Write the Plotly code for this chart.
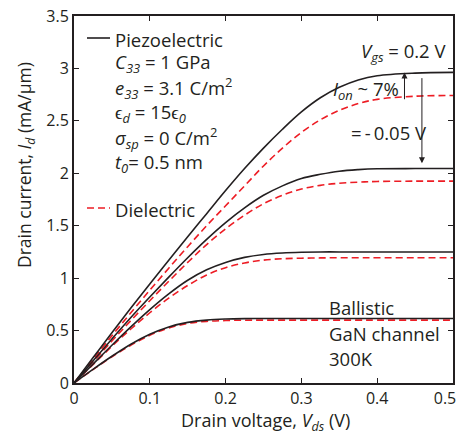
import plotly.graph_objects as go

# ---- data ----
vds = [0, 0.025, 0.05, 0.075, 0.1, 0.125, 0.15, 0.175, 0.2, 0.225, 0.25, 0.275,
       0.3, 0.325, 0.35, 0.375, 0.4, 0.45, 0.5]

piezo_vgs020 = [0, 0.24, 0.48, 0.715, 0.945, 1.17, 1.395, 1.615, 1.835, 2.045, 2.24, 2.42,
                2.585, 2.72, 2.82, 2.89, 2.93, 2.955, 2.962]
piezo_vgs015 = [0, 0.21, 0.42, 0.625, 0.82, 1.01, 1.195, 1.37, 1.53, 1.67, 1.79, 1.88,
                1.95, 1.99, 2.02, 2.035, 2.043, 2.045, 2.045]
piezo_vgs010 = [0, 0.18, 0.36, 0.535, 0.70, 0.85, 0.98, 1.08, 1.15, 1.198, 1.226, 1.24,
                1.247, 1.25, 1.25, 1.25, 1.25, 1.25, 1.25]
piezo_vgs005 = [0, 0.13, 0.255, 0.37, 0.465, 0.535, 0.578, 0.60, 0.61, 0.614, 0.615, 0.615,
                0.615, 0.615, 0.615, 0.615, 0.615, 0.615, 0.615]

diel_vgs020 = [0, 0.225, 0.45, 0.67, 0.885, 1.095, 1.30, 1.50, 1.69, 1.88, 2.07, 2.24,
               2.39, 2.51, 2.60, 2.665, 2.705, 2.735, 2.742]
diel_vgs015 = [0, 0.20, 0.40, 0.595, 0.785, 0.97, 1.15, 1.32, 1.47, 1.60, 1.71, 1.79,
               1.85, 1.885, 1.905, 1.915, 1.922, 1.925, 1.925]
diel_vgs010 = [0, 0.175, 0.35, 0.515, 0.67, 0.81, 0.93, 1.03, 1.10, 1.145, 1.172, 1.185,
               1.19, 1.193, 1.195, 1.195, 1.195, 1.195, 1.195]
diel_vgs005 = [0, 0.128, 0.25, 0.36, 0.455, 0.525, 0.568, 0.588, 0.596, 0.599, 0.60, 0.60,
               0.60, 0.60, 0.60, 0.60, 0.60, 0.60, 0.60]

x_ticks = [0, 0.1, 0.2, 0.3, 0.4, 0.5]
x_ticklabels = ["0", "0.1", "0.2", "0.3", "0.4", "0.5\u2003"]
y_ticks = [0, 0.5, 1, 1.5, 2, 2.5, 3, 3.5]
y_ticklabels = ["0", "0.5", "1", "1.5", "2", "2.5", "3", "3.5"]

# ---- styles ----
BLACK = "#231f20"
RED = "#ed1c24"
FONT = "Open Sans"

W, H = 462, 437
ML, MR, MT, MB = 74, 9, 16, 54
PW, PH = W - ML - MR, H - MT - MB


def px(x, y):
    """pixel position -> paper coordinates"""
    return (x - ML) / PW, (H - MB - y) / PH


fig = go.Figure()

for ys in [diel_vgs020, diel_vgs015, diel_vgs010, diel_vgs005]:
    fig.add_trace(go.Scatter(x=vds, y=ys, mode="lines", showlegend=False,
                             line=dict(color=RED, width=1.6, dash="7px,4px", shape="spline", smoothing=1.0)))
for ys in [piezo_vgs020, piezo_vgs015, piezo_vgs010, piezo_vgs005]:
    fig.add_trace(go.Scatter(x=vds, y=ys, mode="lines", showlegend=False,
                             line=dict(color=BLACK, width=1.6, shape="spline", smoothing=1.0)))

annotations = []
shapes = []


def text_at(x, y, txt, size=18.5, xanchor="left", **kw):
    xp, yp = px(x, y)
    annotations.append(dict(x=xp, y=yp, xref="paper", yref="paper", text=txt, showarrow=False,
                            xanchor=xanchor, yanchor="middle",
                            font=dict(family=FONT, size=size, color=BLACK), **kw))


def hline_sample(x0, x1, y, color, dash=None):
    a0, b0 = px(x0, y)
    a1, b1 = px(x1, y)
    shapes.append(dict(type="line", xref="paper", yref="paper", x0=a0, x1=a1, y0=b0, y1=b1,
                       line=dict(color=color, width=1.6, dash=dash)))


hline_sample(87, 110, 38, BLACK)
text_at(113, 39, "Piezoelectric")
text_at(113, 63, "<i>C</i><sub><i>33</i></sub> = 1 GPa")
text_at(113, 88, "<i>e</i><sub><i>33</i></sub> = 3.1 C/m<sup>2</sup>")
text_at(113, 113, "ϵ<sub><i>d</i></sub> = 15ϵ<sub><i>0</i></sub>")
text_at(113, 138, "<i>σ</i><sub><i>sp</i></sub> = 0 C/m<sup>2</sup>")
text_at(113, 163, "<i>t</i><sub><i>0</i></sub>= 0.5 nm")
hline_sample(87, 110, 208, RED, dash="7px,4px")
text_at(113, 209, "Dielectric")

# right-side annotations
text_at(448, 52, "<i>V</i><sub><i>gs</i></sub> = 0.2 V", xanchor="right")
text_at(331, 90, "<i>I</i><sub><i>on</i></sub> ~ 7%", xanchor="left")
text_at(429, 132, "=\u2009-\u20090.05 V", xanchor="right")

text_at(327, 307, "Ballistic", size=18.5)
text_at(327, 333, "GaN channel", size=18.5)
text_at(327, 358, "300K", size=18.5)

# arrows (data coords)
annotations.append(dict(x=0.436, y=piezo_vgs020[-1], ax=0.436, ay=diel_vgs020[-1] - 0.05,
                        xref="x", yref="y", axref="x", ayref="y", showarrow=True,
                        arrowhead=2, arrowsize=1.2, arrowwidth=1, arrowcolor=BLACK, text=""))
annotations.append(dict(x=0.459, y=piezo_vgs015[-1] + 0.05, ax=0.459, ay=piezo_vgs020[-1] - 0.04,
                        xref="x", yref="y", axref="x", ayref="y", showarrow=True,
                        arrowhead=2, arrowsize=1.2, arrowwidth=1, arrowcolor=BLACK, text=""))

# axis titles
xp, yp = px(265, 422)
annotations.append(dict(x=xp, y=yp, xref="paper", yref="paper", showarrow=False,
                        text="Drain voltage, <i>V</i><sub><i>ds</i></sub> (V)",
                        font=dict(family=FONT, size=18, color=BLACK), xanchor="center", yanchor="middle"))
xp, yp = px(25, 165)
annotations.append(dict(x=xp, y=yp, xref="paper", yref="paper", showarrow=False, textangle=-90,
                        text="Drain current, <i>I</i><sub><i>d</i></sub> (mA/µm)",
                        font=dict(family=FONT, size=17.5, color=BLACK), xanchor="center", yanchor="middle"))

axis_common = dict(showline=True, linecolor=BLACK, linewidth=2, mirror="ticks",
                   ticks="inside", ticklen=5, tickwidth=1, tickcolor=BLACK,
                   showgrid=False, zeroline=False, automargin=False,
                   ticklabeloverflow="allow",
                   tickfont=dict(family=FONT, size=16, color=BLACK))

fig.update_layout(
    width=W, height=H,
    margin=dict(l=ML, r=MR, t=MT, b=MB, autoexpand=False),
    paper_bgcolor="white", plot_bgcolor="white",
    xaxis=dict(range=[0, 0.5], tickvals=x_ticks, ticktext=x_ticklabels, **axis_common),
    yaxis=dict(range=[0, 3.5], tickvals=y_ticks, ticktext=y_ticklabels, **axis_common),
    annotations=annotations, shapes=shapes,
)

fig.write_html("out.html")
